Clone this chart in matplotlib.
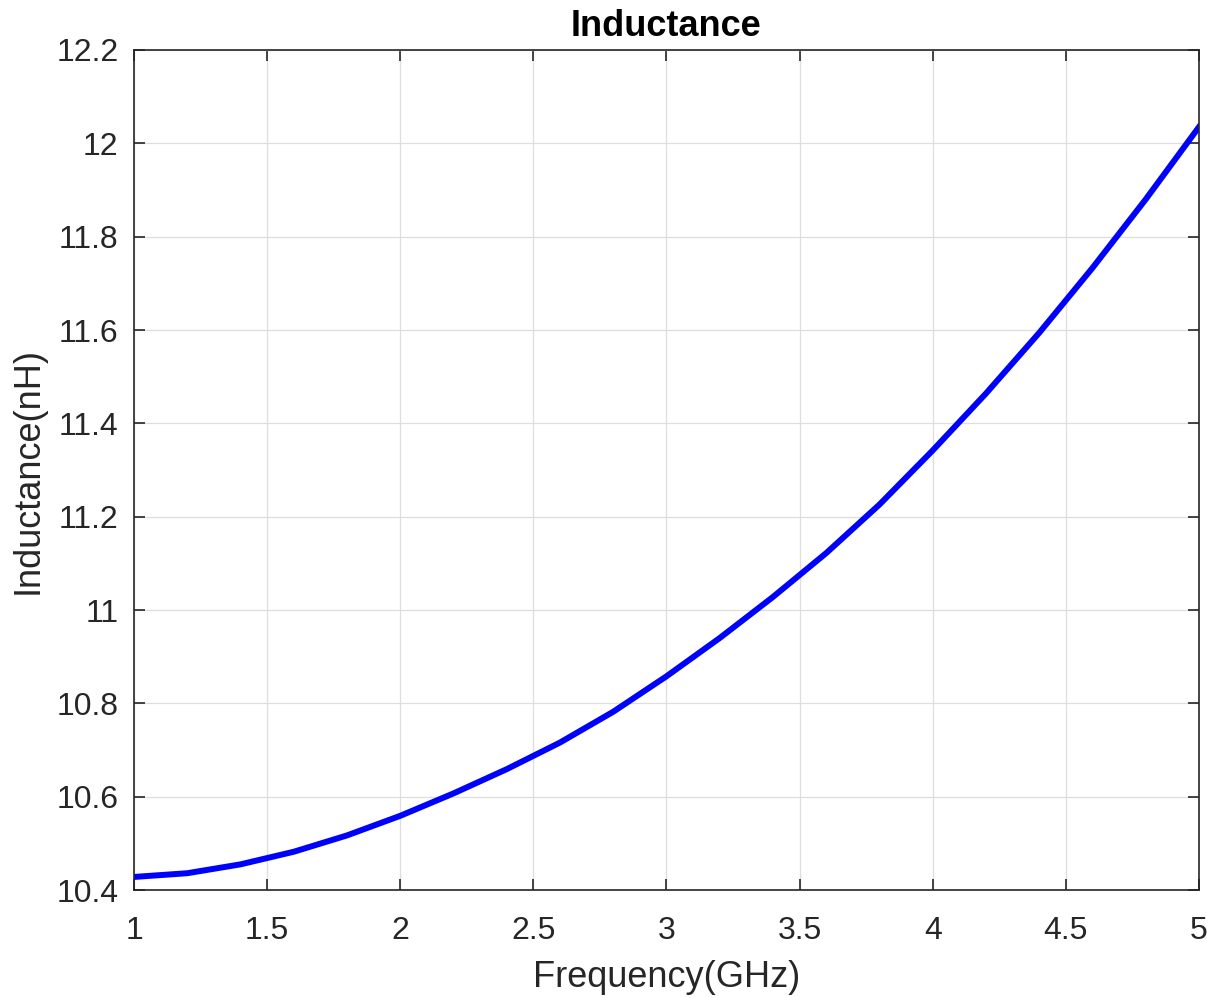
import numpy as np
import matplotlib.pyplot as plt

plt.rcParams['font.family'] = ['Liberation Sans', 'DejaVu Sans']

# frequency (GHz) and inductance (nH)
freq = [1.0, 1.2, 1.4, 1.6, 1.8, 2.0, 2.2, 2.4, 2.6, 2.8, 3.0,
        3.2, 3.4, 3.6, 3.8, 4.0, 4.2, 4.4, 4.6, 4.8, 5.0]
ind = [10.428, 10.436, 10.455, 10.482, 10.517, 10.559, 10.607, 10.659,
       10.716, 10.782, 10.858, 10.940, 11.028, 11.122, 11.226, 11.342,
       11.464, 11.594, 11.733, 11.880, 12.035]

xticks = [1, 1.5, 2, 2.5, 3, 3.5, 4, 4.5, 5]
xticklabels = ['1', '1.5', '2', '2.5', '3', '3.5', '4', '4.5', '5']
yticks = [10.4, 10.6, 10.8, 11, 11.2, 11.4, 11.6, 11.8, 12, 12.2]
yticklabels = ['10.4', '10.6', '10.8', '11', '11.2', '11.4', '11.6', '11.8', '12', '12.2']

fig = plt.figure(figsize=(12.14, 9.98), dpi=100)
ax = fig.add_axes([0.1104, 0.1082, 0.8772, 0.8417])

ax.plot(freq, ind, color='#0000ff', lw=4.3, solid_joinstyle='round')

ax.set_xlim(1, 5)
ax.set_ylim(10.4, 12.2)
ax.set_xticks(xticks)
ax.set_xticklabels(xticklabels)
ax.set_yticks(yticks)
ax.set_yticklabels(yticklabels)

ax.grid(True, color='#dedede', lw=0.9)
ax.set_axisbelow(True)

dark = '#262626'
for s in ax.spines.values():
    s.set_color(dark)
    s.set_linewidth(1.2)
ax.tick_params(direction='in', length=8, width=1.2, colors=dark,
               labelsize=23, top=True, right=True)
ax.tick_params(axis='x', pad=19)
ax.tick_params(axis='y', pad=11)

ax.set_xlabel('Frequency(GHz)', fontsize=26, color=dark, labelpad=10)
ax.set_ylabel('Inductance(nH)', fontsize=26, color=dark, labelpad=8)
ax.set_title('Inductance', fontsize=26, fontweight='bold', pad=10)

fig.savefig('out.png', dpi=100)
